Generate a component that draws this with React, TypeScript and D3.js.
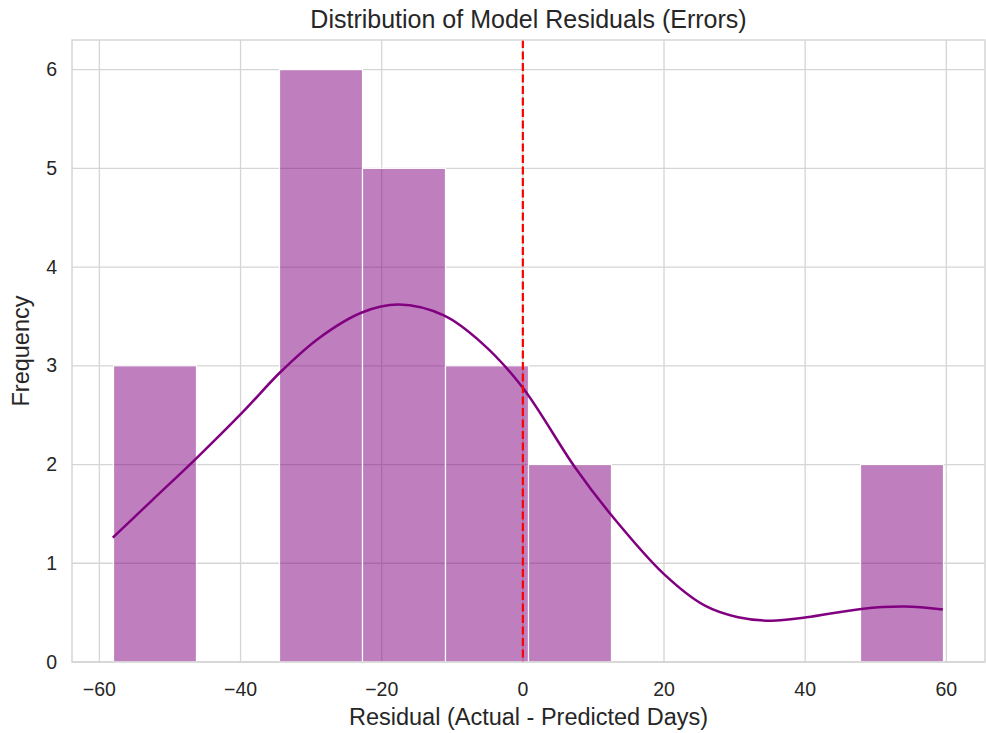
import { useMemo } from "react"
import * as d3 from "d3"

// histogram bins (edges) and counts
const binEdges = [-58.0, -46.24, -34.48, -22.72, -10.96, 0.8, 12.56, 24.32, 36.08, 47.84, 59.6]
const binCounts = [3, 0, 6, 5, 3, 2, 0, 0, 0, 2]

// kde curve (scaled to counts)
const kdeX = [-58.1, -52.5, -46.3, -39.7, -34.3, -28.9, -22.8, -17.6, -11.2, -5.8, -0.14, 7.4, 12.4, 20.0, 25.8, 30.5, 35.2, 40.2, 47.95, 54.1, 59.5]
const kdeY = [1.26, 1.64, 2.06, 2.53, 2.94, 3.28, 3.54, 3.62, 3.51, 3.23, 2.79, 1.97, 1.5, 0.89, 0.57, 0.453, 0.419, 0.453, 0.538, 0.561, 0.531]

const xTicks = [-60, -40, -20, 0, 20, 40, 60]
const yTicks = [0, 1, 2, 3, 4, 5, 6]
const zeroLine = 0

const W = 986
const H = 733
const margin = { top: 40, right: 1, bottom: 71, left: 72 }
const FONT = "'Liberation Sans', Arial, sans-serif"

export default function App() {
  const innerW = W - margin.left - margin.right
  const innerH = H - margin.top - margin.bottom

  const x = useMemo(() => d3.scaleLinear().domain([-63.88, 65.48]).range([0, innerW]), [innerW])
  const y = useMemo(() => d3.scaleLinear().domain([0, 6.3]).range([innerH, 0]), [innerH])

  const kdePts = kdeX.map((v, i) => [v, kdeY[i]] as [number, number])
  const line = d3
    .line<[number, number]>()
    .x((d) => x(d[0]))
    .y((d) => y(d[1]))
    .curve(d3.curveCatmullRom.alpha(0.5))

  const fmt = (v: number) => (v < 0 ? "\u2212" + Math.abs(v) : String(v))

  return (
    <div style={{ position: "fixed", left: 0, top: 0 }}>
      <svg width={W} height={H} style={{ display: "block", background: "#fff" }} fontFamily={FONT}>
        <g transform={`translate(${margin.left},${margin.top})`}>
          {/* grid */}
          {xTicks.map((t) => (
            <line key={"gx" + t} x1={x(t)} x2={x(t)} y1={0} y2={innerH} stroke="#d5d5d5" strokeWidth={1.3} />
          ))}
          {yTicks.map((t) => (
            <line key={"gy" + t} x1={0} x2={innerW} y1={y(t)} y2={y(t)} stroke="#d5d5d5" strokeWidth={1.3} />
          ))}

          {/* bars */}
          {binCounts.map((c, i) =>
            c > 0 ? (
              <rect
                key={"b" + i}
                x={x(binEdges[i])}
                y={y(c)}
                width={x(binEdges[i + 1]) - x(binEdges[i])}
                height={y(0) - y(c)}
                fill="purple"
                fillOpacity={0.5}
                stroke="#fff"
                strokeWidth={1.2}
              />
            ) : null
          )}

          {/* kde */}
          <path d={line(kdePts) || ""} fill="none" stroke="purple" strokeWidth={2.5} />

          {/* zero reference */}
          <line
            x1={x(zeroLine)}
            x2={x(zeroLine)}
            y1={0}
            y2={innerH}
            stroke="red"
            strokeWidth={2.2}
            strokeDasharray="8,3.5"
          />

          {/* spines */}
          <rect x={0} y={0} width={innerW} height={innerH} fill="none" stroke="#d5d5d5" strokeWidth={1.5} />

          {/* tick labels */}
          {xTicks.map((t) => (
            <text key={"tx" + t} x={x(t)} y={innerH + 34} textAnchor="middle" fontSize={19.5} fill="#262626">
              {fmt(t)}
            </text>
          ))}
          {yTicks.map((t) => (
            <text key={"ty" + t} x={-15} y={y(t) + 6.5} textAnchor="end" fontSize={19.5} fill="#262626">
              {fmt(t)}
            </text>
          ))}

          <text x={innerW / 2} y={-12} textAnchor="middle" fontSize={25} fill="#262626">
            Distribution of Model Residuals (Errors)
          </text>
          <text x={innerW / 2} y={innerH + 63} textAnchor="middle" fontSize={23.5} fill="#262626">
            Residual (Actual - Predicted Days)
          </text>
          <text transform={`translate(${-43},${innerH / 2}) rotate(-90)`} textAnchor="middle" fontSize={23.5} fill="#262626">
            Frequency
          </text>
        </g>
      </svg>
    </div>
  )
}
